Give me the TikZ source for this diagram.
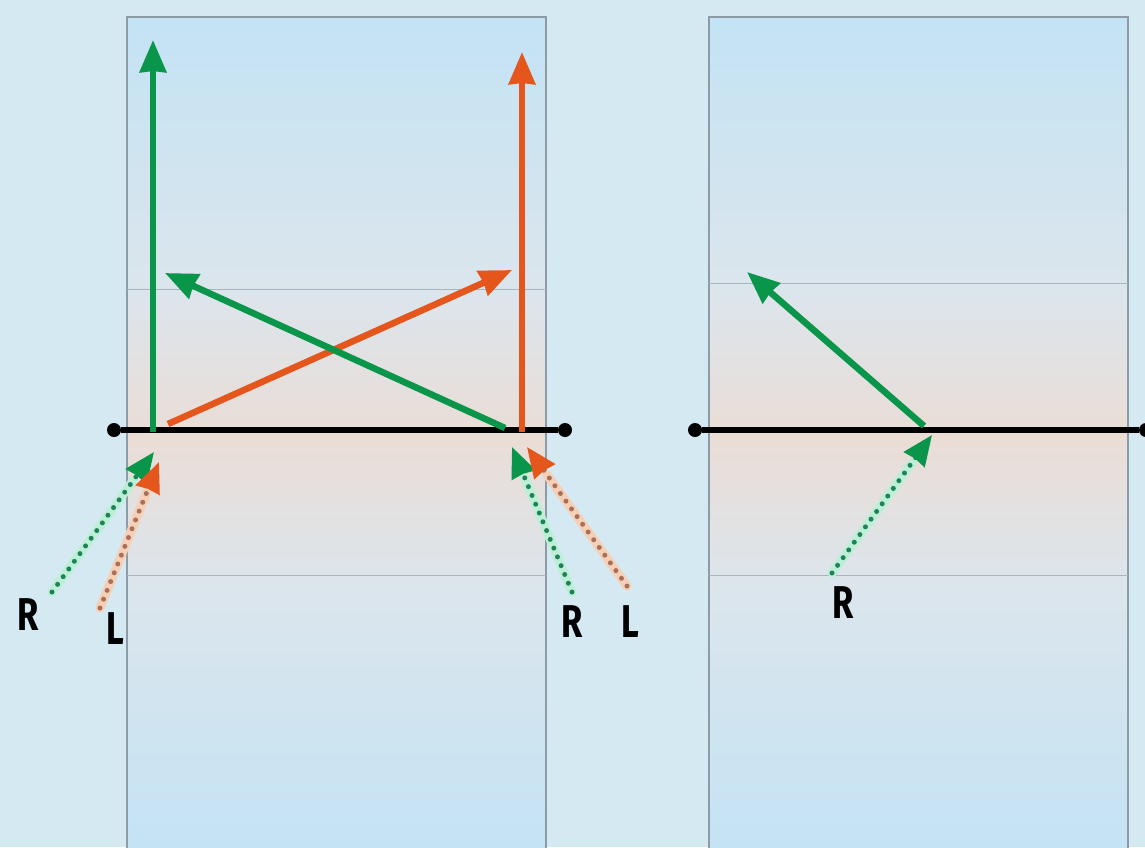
\documentclass[tikz,border=0pt]{standalone}
\usepackage{fontspec}
\setmainfont{Fira Sans}
\usetikzlibrary{arrows.meta,calc}
\definecolor{bgblue}{HTML}{D5E9F3}
\definecolor{panelline}{HTML}{8C9BA6}
\definecolor{mygreen}{HTML}{0A964A}
\definecolor{myorange}{HTML}{E4561C}
\definecolor{dotgreen}{HTML}{1F8258}
\definecolor{halogreen}{HTML}{BDEFD6}
\definecolor{dotorange}{HTML}{A8705A}
\definecolor{haloorange}{HTML}{F6D0B6}
\definecolor{shA}{HTML}{C3E3F5}
\definecolor{shB}{HTML}{DCE5EC}
\definecolor{shC}{HTML}{EADDD6}
\definecolor{shD}{HTML}{DCE5EC}
\definecolor{shE}{HTML}{C3E3F5}
\pgfdeclareverticalshading{panelshade}{100bp}{
  color(0bp)=(shA);
  color(25bp)=(shA);
  color(41.4bp)=(shB);
  color(50.1bp)=(shC);
  color(58.55bp)=(shD);
  color(75bp)=(shE);
  color(100bp)=(shE)}
\tikzset{
  panel/.style={draw=panelline, line width=1.3pt, shading=panelshade},
  thinrule/.style={draw=panelline!75, line width=1pt},
  mirror/.style={draw=black, line width=5.5pt},
  enddot/.style={circle, fill=black, inner sep=0pt, minimum size=14pt},
  ray/.style={line width=6.5pt, -{Stealth[inset=1pt,length=32pt,width=26pt]}},
  halo/.style={line width=9pt, line cap=round},
  dotray/.style={line width=5pt, line cap=round, dash pattern=on 0pt off 9.5pt},
  lab/.style={font=\fontsize{46}{46}\selectfont\bfseries, inner sep=0pt}
}
\newcommand{\lbl}[1]{\scalebox{0.75}[1]{#1}}
\begin{document}
\begin{tikzpicture}[x=1pt,y=-1pt]
\useasboundingbox (0,0) rectangle (1145,847);
\fill[bgblue] (0,0) rectangle (1145,847);
% panels
\shade[panel] (127,17) rectangle (546,860);
\shade[panel] (709,17) rectangle (1128,860);
\draw[thinrule] (127,289) -- (546,289);
\draw[thinrule] (127,575) -- (546,575);
\draw[thinrule] (709,283) -- (1128,283);
\draw[thinrule] (709,575) -- (1128,575);
% mirrors
\node[enddot] (m1a) at (114,430) {};
\node[enddot] (m1b) at (565,430) {};
\node[enddot] (m2a) at (695,430) {};
\node[enddot] (m2b) at (1146,430) {};
\draw[mirror] (m1a) -- (m1b);
\draw[mirror] (m2a) -- (m2b);
% coordinates
\coordinate (gv0) at (153,432);
\coordinate (gv1) at (153,40);
\coordinate (ov0) at (522,432);
\coordinate (ov1) at (522,52);
\coordinate (gd0) at (505,428);
\coordinate (gd1) at (165,273);
\coordinate (od0) at (168,424);
\coordinate (od1) at (512,270);
\coordinate (r2a) at (924,426);
\coordinate (r2b) at (747,272);
% incoming dotted
\coordinate (iG1s) at (52,592);   \coordinate (iG1e) at (154,452);
\coordinate (iO1s) at (100,608);  \coordinate (iO1e) at (159,462);
\coordinate (iG2s) at (572,592);  \coordinate (iG2e) at (512,447);
\coordinate (iO2s) at (627,586);  \coordinate (iO2e) at (527,447);
\coordinate (iG3s) at (832,573);  \coordinate (iG3e) at (932,435);
% solid rays
\draw[ray, mygreen] (gv0) -- (gv1);
\draw[ray, myorange] (ov0) -- (ov1);
\draw[ray, myorange] (od0) -- (od1);
\draw[ray, mygreen] (gd0) -- (gd1);
\draw[ray, mygreen] (r2a) -- (r2b);
% dotted halos
\draw[halo, halogreen] (iG1s) -- ($(iG1s)!0.8!(iG1e)$);
\draw[halo, haloorange] (iO1s) -- ($(iO1s)!0.8!(iO1e)$);
\draw[halo, halogreen] (iG2s) -- ($(iG2s)!0.8!(iG2e)$);
\draw[halo, haloorange] (iO2s) -- ($(iO2s)!0.8!(iO2e)$);
\draw[halo, halogreen] (iG3s) -- ($(iG3s)!0.8!(iG3e)$);
% dotted rays
\draw[dotray, dotgreen, -{Stealth[inset=1pt,length=30pt,width=25pt,color=mygreen]}] (iG1s) -- (iG1e);
\draw[dotray, dotorange, -{Stealth[inset=1pt,length=30pt,width=25pt,color=myorange]}] (iO1s) -- (iO1e);
\draw[dotray, dotgreen, -{Stealth[inset=1pt,length=30pt,width=25pt,color=mygreen]}] (iG2s) -- (iG2e);
\draw[dotray, dotorange, -{Stealth[inset=1pt,length=30pt,width=25pt,color=myorange]}] (iO2s) -- (iO2e);
\draw[dotray, dotgreen, -{Stealth[inset=1pt,length=30pt,width=25pt,color=mygreen]}] (iG3s) -- (iG3e);
% labels
\node[lab] (lR1) at (28,615) {\lbl{R}};
\node[lab] (lL1) at (115,629) {\lbl{L}};
\node[lab] (lR2) at (572,622) {\lbl{R}};
\node[lab] (lL2) at (630,622) {\lbl{L}};
\node[lab] (lR3) at (843,603) {\lbl{R}};
\end{tikzpicture}
\end{document}
